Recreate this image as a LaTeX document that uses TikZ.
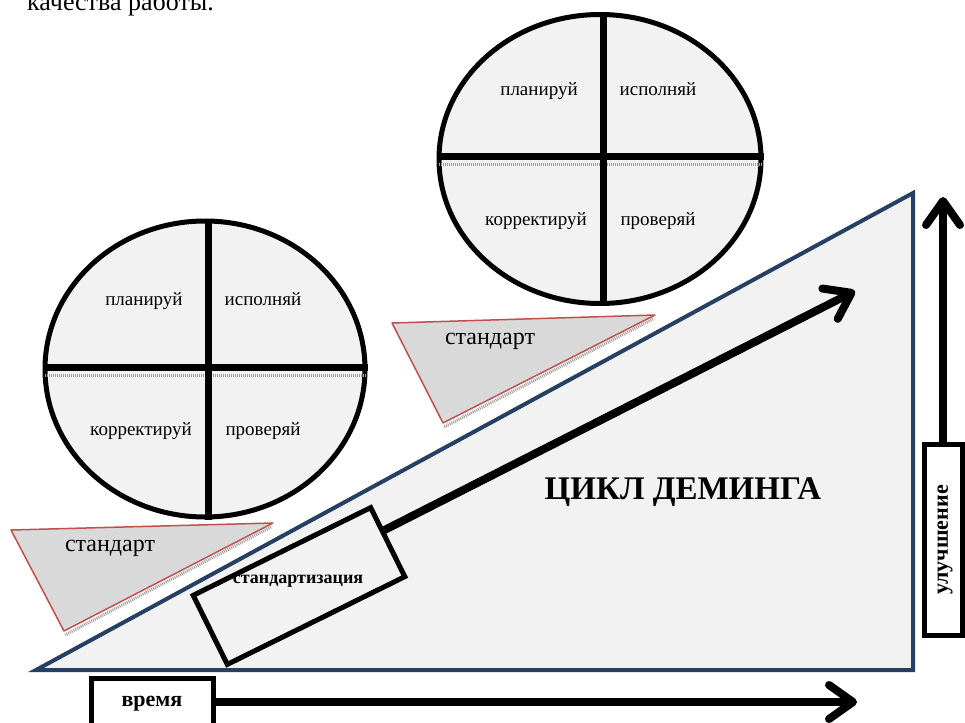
\documentclass[tikz,border=0pt]{standalone}
\usepackage{fontspec}
\setmainfont{Liberation Serif}
\usetikzlibrary{shapes.geometric,arrows.meta,calc,positioning}
\definecolor{navy}{RGB}{38,64,99}
\definecolor{paper}{RGB}{242,242,242}
\definecolor{stdgray}{RGB}{217,217,217}
\definecolor{stdred}{RGB}{192,80,77}
\tikzstyle{phase} = [ellipse, draw, line width=5pt, fill=paper, inner sep=0pt]
\tikzstyle{cross} = [draw, line width=7pt]
\tikzstyle{shade} = [draw, gray!75, line width=3pt, dash pattern=on 1pt off 1pt]
\tikzstyle{word} = [font=\fontsize{19}{22}\selectfont, text height=9pt, text depth=4pt]
\tikzstyle{standard} = [draw=stdred, line width=1.5pt, fill=stdgray, line join=round]
\tikzstyle{frame} = [rectangle, draw, line width=5pt, fill=white, inner sep=0pt]
\tikzstyle{bigarrow} = [draw, line width=8pt,
    -{Straight Barb[round, length=24pt, width=34pt]}]

\begin{document}
\begin{tikzpicture}[x=1pt, y=-1pt]
    \useasboundingbox (0,0) rectangle (965,722);
    % Text above
    \node [anchor=base west, inner sep=0pt, font=\fontsize{26}{30}\selectfont]
        (prev) at (27,11) {качества работы.};
    % Big triangle
    \coordinate (tri_bl) at (36,670);
    \coordinate (tri_br) at (913,670);
    \coordinate (tri_tr) at (913,193);
    \path [draw=navy, line width=4pt, fill=paper] (tri_bl) -- (tri_br) -- (tri_tr) -- cycle;
    \node [font=\fontsize{33}{36}\selectfont\bfseries] (title) at (683,492) {ЦИКЛ ДЕМИНГА};
    % Standards
    \coordinate (s1_l) at (11,530);
    \coordinate (s1_r) at (273,523);
    \coordinate (s1_b) at (64,631);
    \coordinate (s2_l) at (392,323);
    \coordinate (s2_r) at (655,315);
    \coordinate (s2_b) at (443,423);
    \path [shade] ($(s1_r)+(-2,4)$) -- ($(s1_b)+(1,4)$);
    \path [shade] ($(s2_r)+(-2,4)$) -- ($(s2_b)+(1,4)$);
    \path [standard] (s1_l) -- (s1_r) -- (s1_b) -- cycle;
    \path [standard] (s2_l) -- (s2_r) -- (s2_b) -- cycle;
    \node [font=\fontsize{24}{28}\selectfont] (st1) at (110,548) {стандарт};
    \node [font=\fontsize{24}{28}\selectfont] (st2) at (490,341) {стандарт};
    % PDCA circles
    \node [phase, minimum width=320, minimum height=296] (c1) at (205,369) {};
    \node [phase, minimum width=322, minimum height=289] (c2) at (600,159) {};
    \foreach \c in {c1,c2} {
        \path [shade] ($(\c.west)+(2,6)$) -- ($(\c.east)+(-2,6)$);
        \path [cross] ($(\c.north)+(3,0)$) -- ($(\c.south)+(3,0)$);
        \path [cross] ($(\c.west)+(0,-2)$) -- ($(\c.east)+(0,-2)$);
        \node [word] at ($(\c)+(-61,-66)$) {планируй};
        \node [word] at ($(\c)+(58,-66)$) {исполняй};
        \node [word] at ($(\c)+(-64,64)$) {корректируй};
        \node [word] at ($(\c)+(58,64)$) {проверяй};
    }
    % Standardisation and growth
    \node [frame, fill=paper, rotate=26.3, minimum width=198, minimum height=77] (stz) at (299,586) {};
    \node [font=\fontsize{18}{21}\selectfont\bfseries] (stz_text) at (298,581) {стандартизация};
    \coordinate (goal) at (855,291);
    \path [bigarrow] ($(stz.east)!0.3!(stz.north east)$) -- (goal);
    % Axes
    \node [frame, minimum width=122, minimum height=58] (time) at (152,707) {};
    \node [font=\fontsize{22}{26}\selectfont\bfseries] at (152,704) {время};
    \coordinate (time_end) at (857,702);
    \path [bigarrow] (time.east |- time_end) -- (time_end);
    \node [frame, rotate=90, minimum width=191, minimum height=38] (up) at (943,540) {};
    \node [rotate=90, font=\fontsize{22}{26}\selectfont\bfseries] at (945,540) {улучшение};
    \coordinate (up_end) at (943,197);
    \path [bigarrow] (up.east) -- (up_end);
\end{tikzpicture}
\end{document}
